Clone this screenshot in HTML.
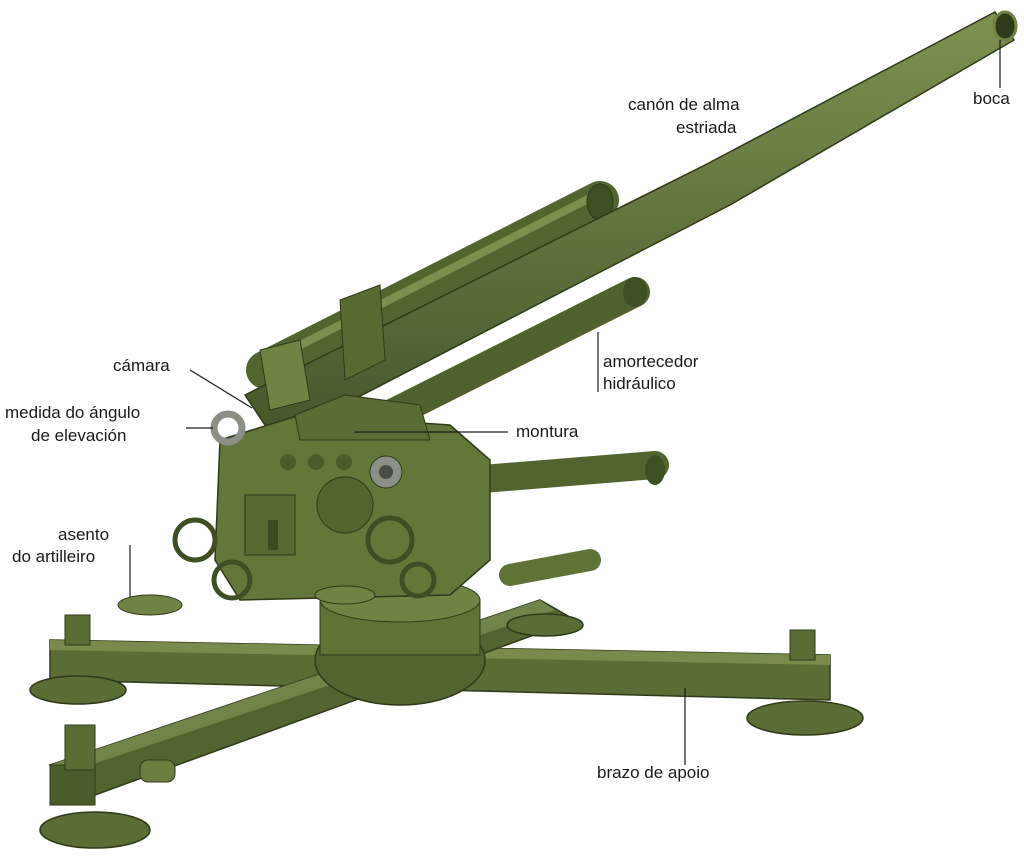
<!DOCTYPE html>
<html><head><meta charset="utf-8"><style>
html,body{margin:0;padding:0;background:#fff;}
svg{display:block;}
text{font-family:"Liberation Sans",sans-serif;font-size:17px;fill:#1a1a1a;}
</style></head><body>
<svg width="1024" height="867" viewBox="0 0 1024 867" xmlns="http://www.w3.org/2000/svg">
<defs>
<linearGradient id="g1" x1="0" y1="0" x2="0" y2="1"><stop offset="0" stop-color="#7d9150"/><stop offset="1" stop-color="#45562a"/></linearGradient>
</defs>
<polygon points="50,640 830,655 830,700 50,680" fill="#5a6d34" stroke="#2f3a1a" stroke-width="1.5"/>
<polygon points="50,640 830,655 830,665 50,650" fill="#788b4c"/>
<polygon points="50,765 540,600 575,620 95,795" fill="#526530" stroke="#2f3a1a" stroke-width="1.5"/>
<polygon points="50,765 540,600 555,610 60,775" fill="#71854a"/>
<rect x="50" y="765" width="45" height="40" fill="#4a5c2a" stroke="#2f3a1a"/>
<ellipse cx="78" cy="690" rx="48" ry="14" fill="#5a6d34" stroke="#2f3a1a" stroke-width="1.5"/>
<ellipse cx="95" cy="830" rx="55" ry="18" fill="#5a6d34" stroke="#2f3a1a" stroke-width="1.5"/>
<ellipse cx="805" cy="718" rx="58" ry="17" fill="#5a6d34" stroke="#2f3a1a" stroke-width="1.5"/>
<ellipse cx="545" cy="625" rx="38" ry="11" fill="#5a6d34" stroke="#2f3a1a" stroke-width="1.5"/>
<rect x="65" y="615" width="25" height="30" fill="#5a6d34" stroke="#2f3a1a"/>
<rect x="65" y="725" width="30" height="45" fill="#5a6d34" stroke="#2f3a1a"/>
<rect x="790" y="630" width="25" height="30" fill="#5a6d34" stroke="#2f3a1a"/>
<rect x="140" y="760" width="35" height="22" rx="8" fill="#6a7e40" stroke="#2f3a1a"/>
<ellipse cx="400" cy="660" rx="85" ry="45" fill="#52652f" stroke="#2f3a1a" stroke-width="1.5"/>
<rect x="320" y="600" width="160" height="55" fill="#5f7337" stroke="#2f3a1a"/>
<ellipse cx="400" cy="600" rx="80" ry="22" fill="#6f8344" stroke="#2f3a1a"/>
<line x1="470" y1="480" x2="655" y2="465" stroke="#52652f" stroke-width="28" stroke-linecap="round"/>
<ellipse cx="655" cy="470" rx="10" ry="15" fill="#3f4f24"/>
<line x1="510" y1="575" x2="590" y2="560" stroke="#5f7337" stroke-width="22" stroke-linecap="round"/>
<line x1="265" y1="370" x2="600" y2="200" stroke="#52652f" stroke-width="38" stroke-linecap="round"/>
<line x1="265" y1="363" x2="600" y2="193" stroke="#7b8f4e" stroke-width="8"/>
<ellipse cx="600" cy="202" rx="13" ry="18" fill="#3f4f24" stroke="#2f3a1a"/>
<line x1="280" y1="395" x2="560" y2="255" stroke="#4a5c2a" stroke-width="30" stroke-linecap="round"/>
<line x1="380" y1="420" x2="635" y2="292" stroke="#4f622d" stroke-width="30" stroke-linecap="round"/>
<ellipse cx="635" cy="292" rx="12" ry="15" fill="#3f4f24"/>
<polygon points="245,395 705,165 995,12 1014,40 730,205 275,440" fill="url(#g1)" stroke="#2f3a1a" stroke-width="1.5"/>
<ellipse cx="1005" cy="26" rx="11" ry="14" fill="#2f3a1a" stroke="#6f8344" stroke-width="3"/>
<polygon points="340,300 380,285 385,360 345,380" fill="#566a31" stroke="#2f3a1a"/>
<polygon points="260,350 300,340 310,400 270,410" fill="#6f8344" stroke="#2f3a1a"/>
<polygon points="220,440 300,415 450,425 490,460 490,560 450,595 240,600 215,560" fill="#63773a" stroke="#2f3a1a" stroke-width="1.5"/>
<polygon points="295,415 345,395 420,405 430,440 300,440" fill="#5a6d34" stroke="#2f3a1a"/>
<circle cx="345" cy="505" r="28" fill="#52652f" stroke="#2f3a1a"/>
<circle cx="386" cy="472" r="16" fill="#8c8f86" stroke="#2f3a1a"/>
<circle cx="386" cy="472" r="7" fill="#4a4d46"/>
<circle cx="288" cy="462" r="8" fill="#4a5c2a"/><circle cx="316" cy="462" r="8" fill="#4a5c2a"/><circle cx="344" cy="462" r="8" fill="#4a5c2a"/>
<rect x="245" y="495" width="50" height="60" fill="#566a31" stroke="#2f3a1a"/>
<rect x="268" y="520" width="10" height="30" fill="#3b4a1f"/>
<g fill="none" stroke="#3f4f24" stroke-width="5">
<circle cx="195" cy="540" r="20"/><circle cx="232" cy="580" r="18"/><circle cx="390" cy="540" r="22"/><circle cx="418" cy="580" r="16"/>
</g>
<ellipse cx="150" cy="605" rx="32" ry="10" fill="#6f8344" stroke="#2f3a1a"/>
<ellipse cx="345" cy="595" rx="30" ry="9" fill="#6f8344" stroke="#2f3a1a"/>
<circle cx="228" cy="428" r="14" fill="none" stroke="#8c8f86" stroke-width="7"/>
<g stroke="#1a1a1a" stroke-width="1.2" fill="none">
<line x1="1000" y1="40" x2="1000" y2="88"/>
<line x1="598" y1="332" x2="598" y2="392"/>
<line x1="355" y1="432" x2="508" y2="432"/>
<line x1="190" y1="370" x2="252" y2="408"/>
<line x1="186" y1="428" x2="213" y2="428"/>
<line x1="130" y1="545" x2="130" y2="597"/>
<line x1="685" y1="688" x2="685" y2="765"/>
</g>
<text x="628" y="110">canón de alma</text>
<text x="676" y="133">estriada</text>
<text x="973" y="104">boca</text>
<text x="603" y="367">amortecedor</text>
<text x="603" y="389">hidráulico</text>
<text x="516" y="437">montura</text>
<text x="113" y="371">cámara</text>
<text x="5" y="418">medida do ángulo</text>
<text x="31" y="441">de elevación</text>
<text x="58" y="540">asento</text>
<text x="12" y="562">do artilleiro</text>
<text x="597" y="778">brazo de apoio</text>
</svg>
</body></html>
